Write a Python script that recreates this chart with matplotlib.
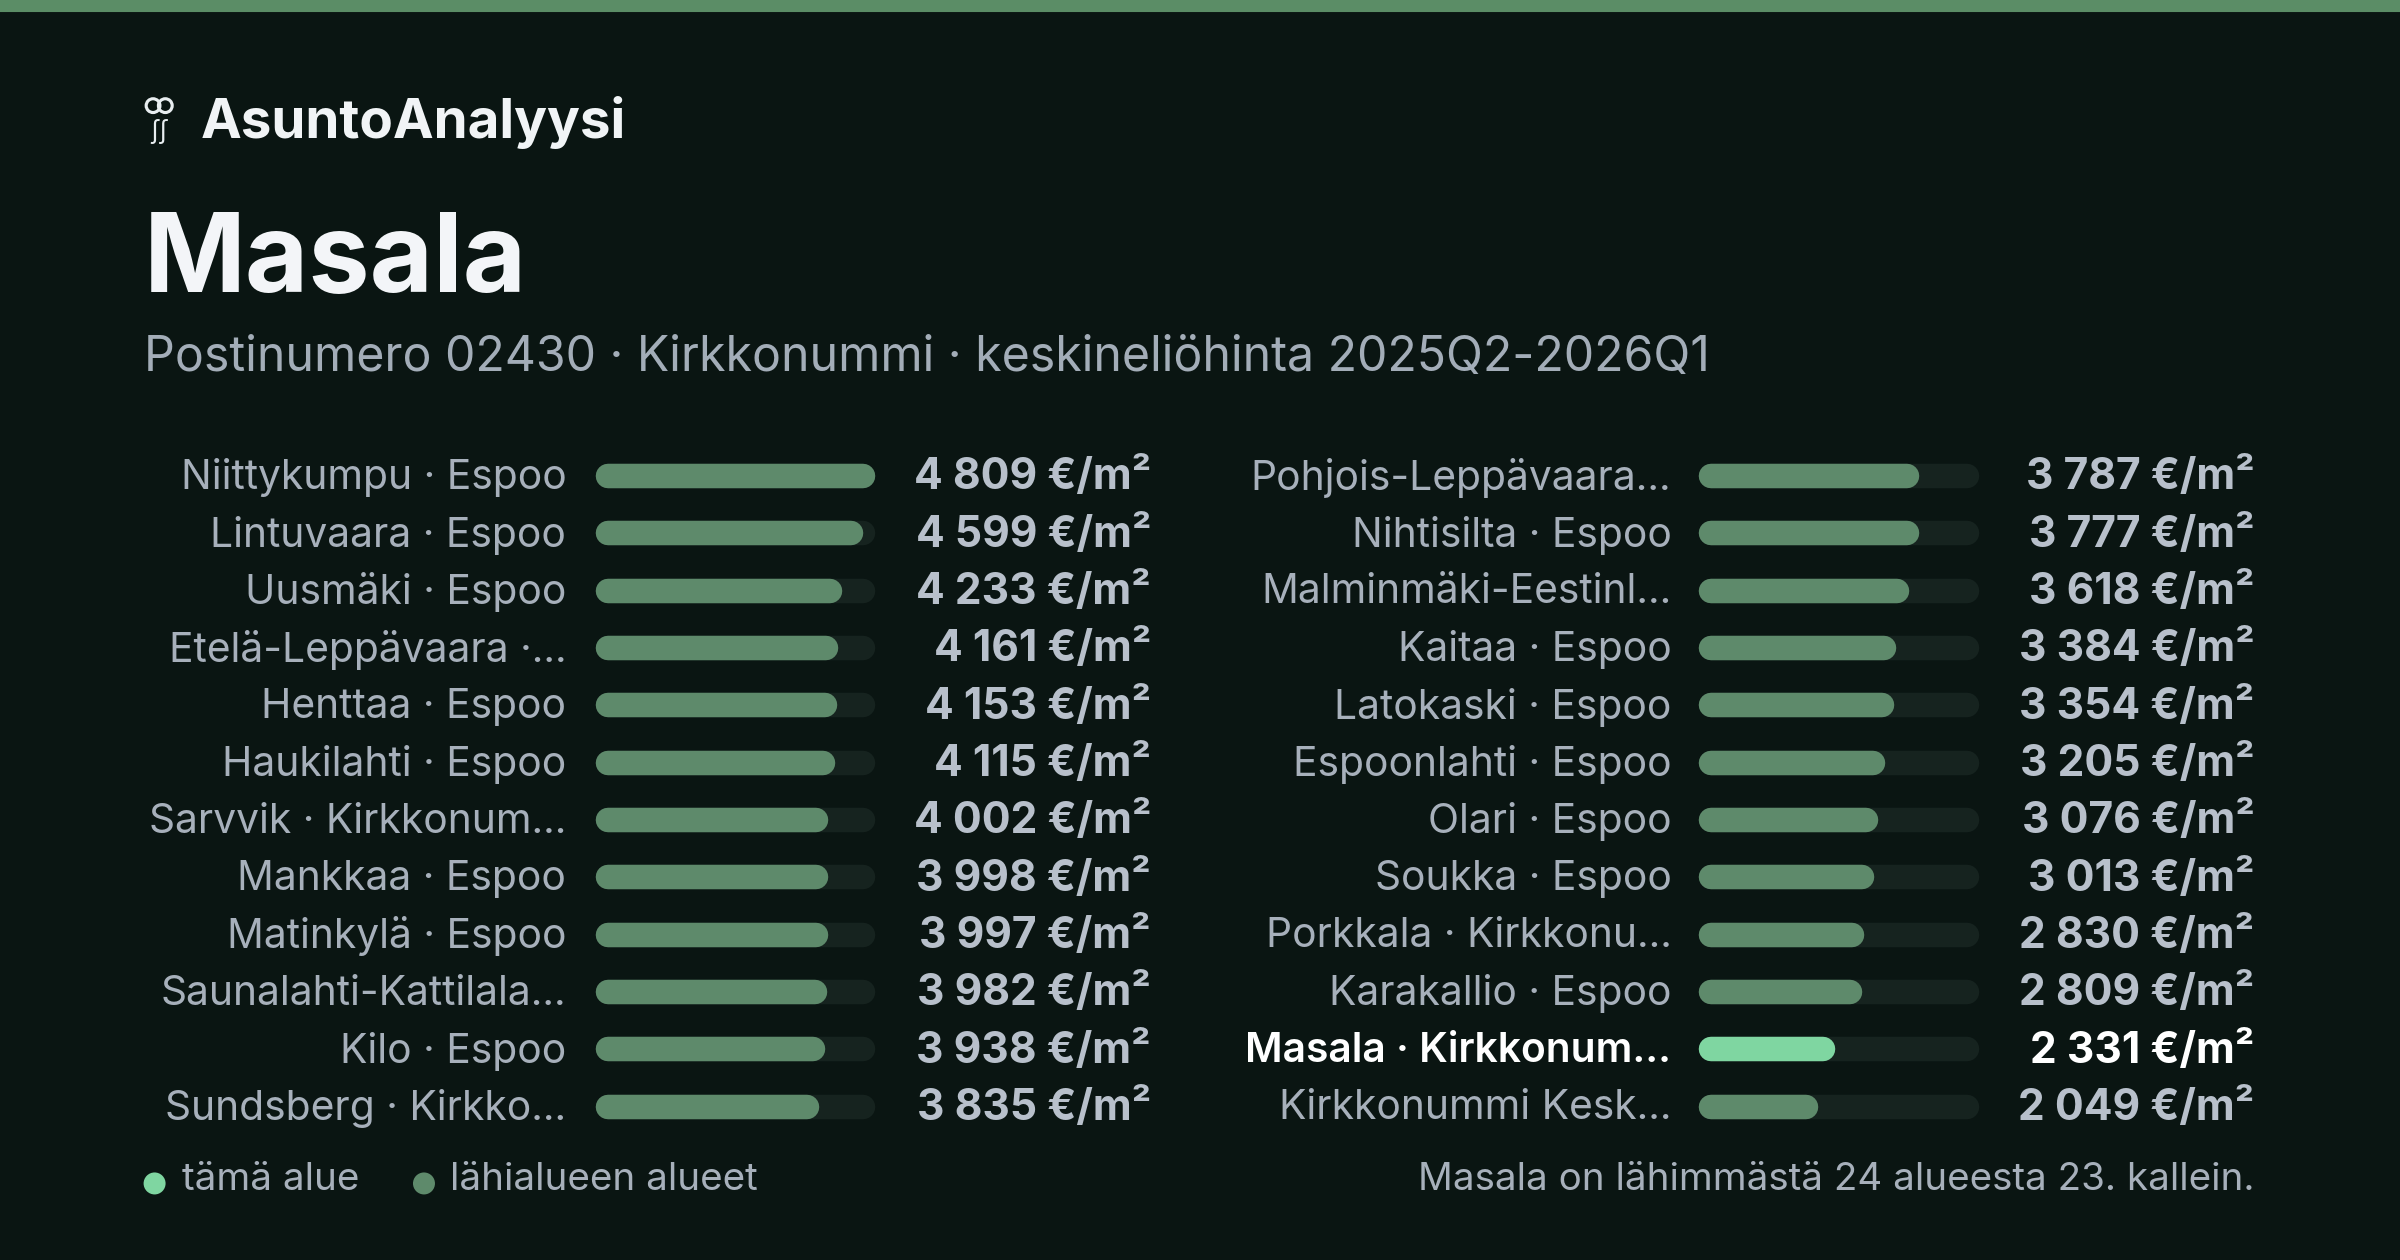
import matplotlib
matplotlib.use("Agg")
import matplotlib.pyplot as plt
from matplotlib.patches import Rectangle, Ellipse

labels_left = ["Niittykumpu · Espoo", "Lintuvaara · Espoo", "Uusmäki · Espoo", "Etelä-Leppävaara ·...",
               "Henttaa · Espoo", "Haukilahti · Espoo", "Sarvvik · Kirkkonum...", "Mankkaa · Espoo",
               "Matinkylä · Espoo", "Saunalahti-Kattilala...", "Kilo · Espoo", "Sundsberg · Kirkko..."]
values_left = [4809, 4599, 4233, 4161, 4153, 4115, 4002, 3998, 3997, 3982, 3938, 3835]
labels_right = ["Pohjois-Leppävaara...", "Nihtisilta · Espoo", "Malminmäki-Eestinl...", "Kaitaa · Espoo",
                "Latokaski · Espoo", "Espoonlahti · Espoo", "Olari · Espoo", "Soukka · Espoo",
                "Porkkala · Kirkkonu...", "Karakallio · Espoo", "Masala · Kirkkonum...", "Kirkkonummi Kesk..."]
values_right = [3787, 3777, 3618, 3384, 3354, 3205, 3076, 3013, 2830, 2809, 2331, 2049]
highlight = "Masala · Kirkkonum..."
vmax = max(values_left + values_right)

BG = "#0a1512"; BAR = "#5e8a6b"; TRACK = "#16231f"; HI = "#7fd6a1"
TXT = "#a7b0bb"; VAL = "#b8c0cb"
W, H = 1568, 823
plt.rcParams['font.family'] = ['Inter', 'DejaVu Sans']
fig = plt.figure(figsize=(16, 8.4), dpi=150, facecolor=BG)
P = 0.735 * 1.05

def fx(x): return x / W
def fy(y): return 1 - y / H

def dot(x, y, r, color):
    fig.patches.append(Ellipse((fx(x), fy(y)), 2 * r / W, 2 * r / H, transform=fig.transFigure, color=color))

fig.patches.append(Rectangle((0, fy(7)), 1, 7 / H, transform=fig.transFigure, color="#5b8d66"))
for cx in (100, 108):
    fig.patches.append(Ellipse((fx(cx), fy(69)), 9 / W, 9 / H, transform=fig.transFigure,
                               fill=False, ec="#e8edf0", lw=1.5))
fig.text(fx(104), fy(86), "ʃʃ", color="#e8edf0", fontsize=12, ha="center", va="center")
fig.text(fx(131), fy(80), "AsuntoAnalyysi", color="#f1f4f6", fontsize=34 * P, weight="bold", va="center")
fig.text(fx(94), fy(172), "Masala", color="#f3f5f8", fontsize=68 * P, weight="bold", va="center")
fig.text(fx(94), fy(234), "Postinumero 02430 · Kirkkonummi · keskineliöhinta 2025Q2-2026Q1",
         color="#a3adb8", fontsize=30 * P, va="center")

y0, dy = 312, 37.45
R = 8
def column(labels, values, lab_x, bar_x0, bar_x1, val_x):
    top, bot = y0 - dy / 2, y0 + dy * 11.5
    span = bar_x1 - bar_x0
    inner = span - 2 * R
    ax = fig.add_axes([fx(bar_x0 + R), fy(bot - 1), inner / W, (bot - top) / H])
    ax.set_facecolor("none"); ax.axis("off")
    ax.set_xlim(0, vmax); ax.set_ylim(len(labels) - 0.5, -0.5)
    lw = 16 * 1.531 * 72 / 150
    for i, (l, v) in enumerate(zip(labels, values)):
        hi = l == highlight
        ax.plot([0, vmax], [i, i], color=TRACK, lw=lw, solid_capstyle="round", clip_on=False)
        end = (v / vmax * span - 2 * R) / inner * vmax
        ax.plot([0, end], [i, i], color=HI if hi else BAR,
                lw=lw, solid_capstyle="round", clip_on=False)
        y = y0 + i * dy
        fig.text(fx(lab_x), fy(y), l, ha="right", va="center", fontsize=26 * P * 0.975,
                 color="#ffffff" if hi else TXT, weight="semibold" if hi else "normal")
        fig.text(fx(val_x), fy(y), f"{v:,}".replace(",", " ") + " €/m²", ha="right", va="center",
                 fontsize=26.5 * P, color="#ffffff" if hi else VAL, weight="bold")

column(labels_left, values_left, 370, 389, 572, 752)
column(labels_right, values_right, 1092, 1110, 1293, 1473)

dot(101, 773, 6.5, HI)
fig.text(fx(119), fy(771), "tämä alue", color=TXT, fontsize=24 * P, va="center")
dot(277, 773, 6.5, BAR)
fig.text(fx(294), fy(771), "lähialueen alueet", color=TXT, fontsize=24 * P, va="center")
fig.text(fx(1473), fy(771), "Masala on lähimmästä 24 alueesta 23. kallein.", color=TXT,
         fontsize=24 * P, va="center", ha="right")

fig.savefig("out.png", dpi=150, facecolor=BG)
